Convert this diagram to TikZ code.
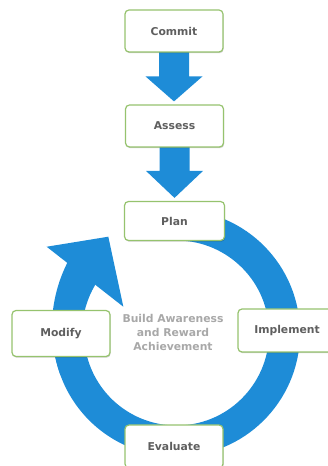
\documentclass[tikz,border=0pt]{standalone}
\usepackage{fontspec}
\setmainfont{DejaVu Sans}
\usetikzlibrary{calc,shadows}
\definecolor{ringblue}{RGB}{30,140,215}
\definecolor{boxgreen}{RGB}{150,195,110}
\definecolor{labelgray}{RGB}{95,95,95}
\definecolor{softgray}{RGB}{168,168,168}
\pgfdeclarelayer{bg}
\pgfsetlayers{bg,main}
\tikzset{
  stepbox/.style={draw=boxgreen, line width=1.2pt, rounded corners=4pt, fill=white,
    minimum width=98pt, minimum height=42pt, inner sep=0pt,
    text=labelgray, font=\fontsize{10.8}{13}\selectfont\bfseries,
    drop shadow={shadow xshift=0.6pt, shadow yshift=-1.2pt, opacity=0.18, fill=black}},
  centertext/.style={align=center, text=softgray, font=\fontsize{10.8}{14}\selectfont\bfseries}
}
\begin{document}
\begin{tikzpicture}[x=1pt,y=1pt]
\useasboundingbox (0,0) rectangle (327,466);
\coordinate (c) at (176.5,133);
% boxes
\node[stepbox] (commit) at (174,435) {Commit};
\node[stepbox] (assess) at (174.5,340) {Assess};
\node[stepbox, minimum width=100pt, minimum height=39pt] (plan) at (174.5,245) {Plan};
\node[stepbox, minimum height=46pt] (modify) at (61,132.5) {Modify};
\node[stepbox, minimum height=43pt] (implement) at (287,135.5) {Implement};
\node[stepbox, minimum height=43pt] (evaluate) at (174,19.5) {Evaluate};
\node[centertext] (center) at (173,134) {Build Awareness\\and Reward\\Achievement};
\begin{pgfonlayer}{bg}
  % block arrows
  \path let \p1=(commit.south), \p2=(assess.north) in
    [fill=ringblue] (\x1-15,\y1+2) -- (\x1-15,\y2+28) -- (\x1-28.5,\y2+28) -- (\x1,\y2+3)
      -- (\x1+28.5,\y2+28) -- (\x1+15,\y2+28) -- (\x1+15,\y1+2) -- cycle;
  \path let \p1=(assess.south), \p2=(plan.north) in
    [fill=ringblue] (\x1-15,\y1+2) -- (\x1-15,\y2+30) -- (\x1-28.5,\y2+30) -- (\x1,\y2+3)
      -- (\x1+28.5,\y2+30) -- (\x1+15,\y2+30) -- (\x1+15,\y1+2) -- cycle;
  % cycle ring
  \begin{scope}[shift={(c)}]
    \draw[ringblue, line width=31pt] (95:108) arc[start angle=95, end angle=-185, radius=108];
    \fill[ringblue] plot[domain=200:146.5, samples=40] (\x:{123.5+6.5*((200-\x)/53.5)^2})
      -- (146.5:94.5) arc[start angle=146.5, end angle=200, radius=94.5] -- cycle;
    \fill[ringblue] (146.4:155.9) -- (125.3:118) -- (153.7:59.3) -- cycle;
  \end{scope}
\end{pgfonlayer}
\end{tikzpicture}
\end{document}
